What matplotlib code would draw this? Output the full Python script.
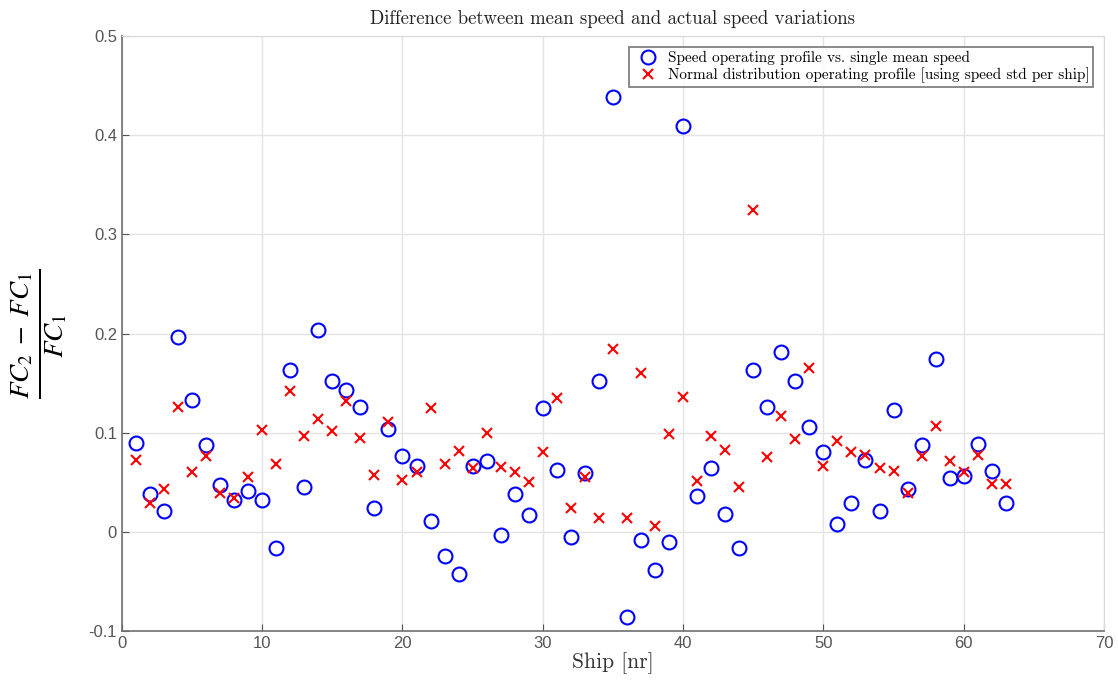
import matplotlib
matplotlib.use("Agg")
import matplotlib.pyplot as plt
import numpy as np
from matplotlib.ticker import FuncFormatter

ships = np.arange(1, 64)
mean_speed_diff = [
    0.090, 0.038, 0.021, 0.197, 0.133, 0.088, 0.047, 0.032, 0.041, 0.032,
    -0.016, 0.163, 0.045, 0.204, 0.152, 0.143, 0.126, 0.024, 0.104, 0.077,
    0.066, 0.011, -0.024, -0.043, 0.066, 0.071, -0.003, 0.038, 0.017, 0.125,
    0.062, -0.005, 0.059, 0.152, 0.439, -0.086, -0.008, -0.038, -0.010, 0.409,
    0.036, 0.064, 0.018, -0.016, 0.163, 0.126, 0.181, 0.152, 0.106, 0.081,
    0.008, 0.029, 0.072, 0.021, 0.123, 0.043, 0.088, 0.174, 0.054, 0.056,
    0.089, 0.061, 0.029,
]
normal_dist_diff = [
    0.072, 0.029, 0.043, 0.126, 0.060, 0.077, 0.039, 0.034, 0.055, 0.103,
    0.068, 0.142, 0.097, 0.114, 0.102, 0.132, 0.095, 0.057, 0.111, 0.052,
    0.060, 0.125, 0.068, 0.082, 0.064, 0.100, 0.065, 0.060, 0.050, 0.081,
    0.135, 0.024, 0.055, 0.014, 0.184, 0.014, 0.160, 0.006, 0.099, 0.136,
    0.051, 0.097, 0.083, 0.045, 0.325, 0.076, 0.117, 0.094, 0.165, 0.066,
    0.092, 0.081, 0.078, 0.064, 0.061, 0.039, 0.077, 0.107, 0.071, 0.060,
    0.078, 0.048, 0.048,
]

plt.rcParams['mathtext.fontset'] = 'stix'
serif = 'cmr10'

fig = plt.figure(figsize=(11.18, 6.84), dpi=100)
ax = fig.add_axes([0.109, 0.0775, 0.8785, 0.8695])

ax.plot(ships, mean_speed_diff, 'o', mfc='none', mec='blue', ms=10, mew=1.5,
        linestyle='none', label='Speed operating profile vs. single mean speed')
ax.plot(ships, normal_dist_diff, 'x', color='red', ms=7, mew=1.5,
        linestyle='none', label='Normal distribution operating profile [using speed std per ship]')

ax.set_xlim(0, 70)
ax.set_ylim(-0.1, 0.5)
ax.set_xticks(np.arange(0, 71, 10))
ax.set_yticks(np.arange(-0.1, 0.51, 0.1))
ax.yaxis.set_major_formatter(FuncFormatter(lambda v, p: '0' if abs(v) < 1e-9 else f'{v:.1f}'))
ax.tick_params(direction='in', colors='#555555', labelsize=12, length=5,
               labelfontfamily='Liberation Sans')
ax.grid(True, color='#e3e3e3', linewidth=1)
ax.set_axisbelow(True)
for s in ['left', 'bottom']:
    ax.spines[s].set_color('#707070')
    ax.spines[s].set_linewidth(1.2)
for s in ['top', 'right']:
    ax.spines[s].set_color('#d8d8d8')

ax.set_title('Difference between mean speed and actual speed variations',
             fontfamily=serif, fontsize=13.5, color='#222222', pad=9)
ax.set_xlabel('Ship [nr]', fontfamily=serif, fontsize=15.5, color='#333333', labelpad=1)
ax.set_ylabel(r'$\frac{FC_2\;-\;FC_1}{FC_1}$', fontsize=28, labelpad=14)

leg = ax.legend(loc='upper right', prop={'family': serif, 'size': 11},
                frameon=True, fancybox=False, borderpad=0.25, handletextpad=0.3,
                labelspacing=0.15, borderaxespad=0.7)
leg.get_frame().set_edgecolor('#555555')
leg.get_frame().set_linewidth(1.2)

fig.savefig('out.png', dpi=100)
